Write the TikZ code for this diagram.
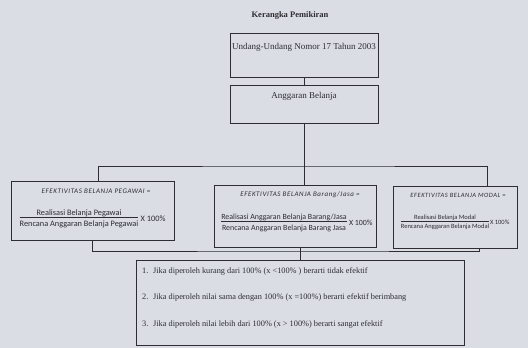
\documentclass[tikz,border=0pt]{standalone}
\usepackage{fontspec}
\setmainfont{Liberation Serif}
\newfontfamily\calfont{Carlito}
\newfontfamily\calspaced[LetterSpace=8]{Carlito}
\usetikzlibrary{positioning,calc}
\definecolor{paper}{RGB}{218,221,228}
\definecolor{ink}{RGB}{45,45,50}

\begin{document}
\begin{tikzpicture}[
    x=1pt, y=-1pt,
    box/.style={draw=ink, line width=0.7pt, minimum width=#1, inner sep=0pt},
    box/.default={148pt},
    txt/.style={font=\fontsize{9}{10}\selectfont, text=ink, inner sep=0pt},
    formtitle/.style={font=\calspaced\itshape\fontsize{#1}{8}\selectfont, text=ink, inner sep=0pt},
    formtitle/.default={7},
    formula/.style={font=\calfont\fontsize{#1}{9}\selectfont, text=ink, inner sep=0pt},
    formula/.default={8.3},
    item/.style={font=\fontsize{8.3}{9}\selectfont, text=ink, anchor=west, inner sep=0pt},
    conn/.style={draw=ink, line width=0.7pt},
]
\fill[paper] (0,0) rectangle (528,348);
\useasboundingbox (0,0) rectangle (528,348);

\node[txt, font=\bfseries\fontsize{8.5}{10}\selectfont] (heading) at (290,15) {Kerangka Pemikiran};

% top boxes
\node[box, minimum height=44pt] (law) at (304,55) {};
\node[txt] (lawtxt) at (304,47) {Undang-Undang Nomor 17 Tahun 2003};
\node[box, minimum height=38pt] (budget) at (304,104) {};
\node[txt] (budgettxt) at (304,96) {Anggaran Belanja};

% formula boxes
\node[box=163pt, minimum height=59pt] (pegawai) at (92.5,210.5) {};
\node[formtitle] (pegawaititle) at (96,191) {EFEKTIVITAS BELANJA PEGAWAI =};
\node[formula] (pegawaifrac) at (79,219) {\begin{tabular}{@{}c@{}}Realisasi Belanja Pegawai\\[-1pt]\hline\rule{0pt}{8.5pt}Rencana Anggaran Belanja Pegawai\end{tabular}};
\node[formula, right=2pt of pegawaifrac] (pegawaix) {X 100\%};

\node[box=162pt, minimum height=62pt] (barang) at (295,216) {};
\node[formtitle] (barangtitle) at (300,195) {EFEKTIVITAS BELANJA Barang/Jasa =};
\node[formula=7.9] (barangfrac) at (284,223) {\begin{tabular}{@{}c@{}}Realisasi Anggaran Belanja Barang/Jasa\\[-1pt]\hline\rule{0pt}{8.5pt}Rencana Anggaran Belanja Barang Jasa\end{tabular}};
\node[formula=7.9, right=2pt of barangfrac] (barangx) {X 100\%};

\node[box=124pt, minimum height=62pt] (modal) at (455,217) {};
\node[formtitle=6.5] (modaltitle) at (458,195) {EFEKTIVITAS BELANJA MODAL =};
\node[formula=6.5] (modalfrac) at (445,222) {\begin{tabular}{@{}c@{}}Realisasi Belanja Modal\\[-1pt]\hline\rule{0pt}{7.5pt}Rencana Anggaran Belanja Modal\end{tabular}};
\node[formula=6.5, right=0.5pt of modalfrac] (modalx) {X 100\%};

% criteria box
\node[box=328pt, minimum height=85pt] (criteria) at (300,302.5) {};
\node[item] (crit1) at (142,271) {\makebox[11pt][l]{1.}Jika diperoleh kurang dari 100\% (x <100\% ) berarti tidak efektif};
\node[item] (crit2) at (142,297) {\makebox[11pt][l]{2.}Jika diperoleh nilai sama dengan 100\% (x =100\%) berarti efektif berimbang};
\node[item] (crit3) at (142,324) {\makebox[11pt][l]{3.}Jika diperoleh nilai lebih dari 100\% (x > 100\%) berarti sangat efektif};

% ===== CONNECTORS =====
\coordinate (split) at (304,166);
\coordinate (join) at (300,251);
\draw[conn] (law.south) -- (budget.north);
\draw[conn] (budget.south) -- (barang.north -| budget.south);
\draw[conn] ([xshift=5.5pt]pegawai.north) |- (split) -| ([xshift=32pt]modal.north);
\draw[conn] (pegawai.south) |- (join) -| ([xshift=24pt]modal.south);
\draw[conn] ([xshift=5pt]barang.south) -- ([xshift=5pt]barang.south |- criteria.north);
\end{tikzpicture}
\end{document}
